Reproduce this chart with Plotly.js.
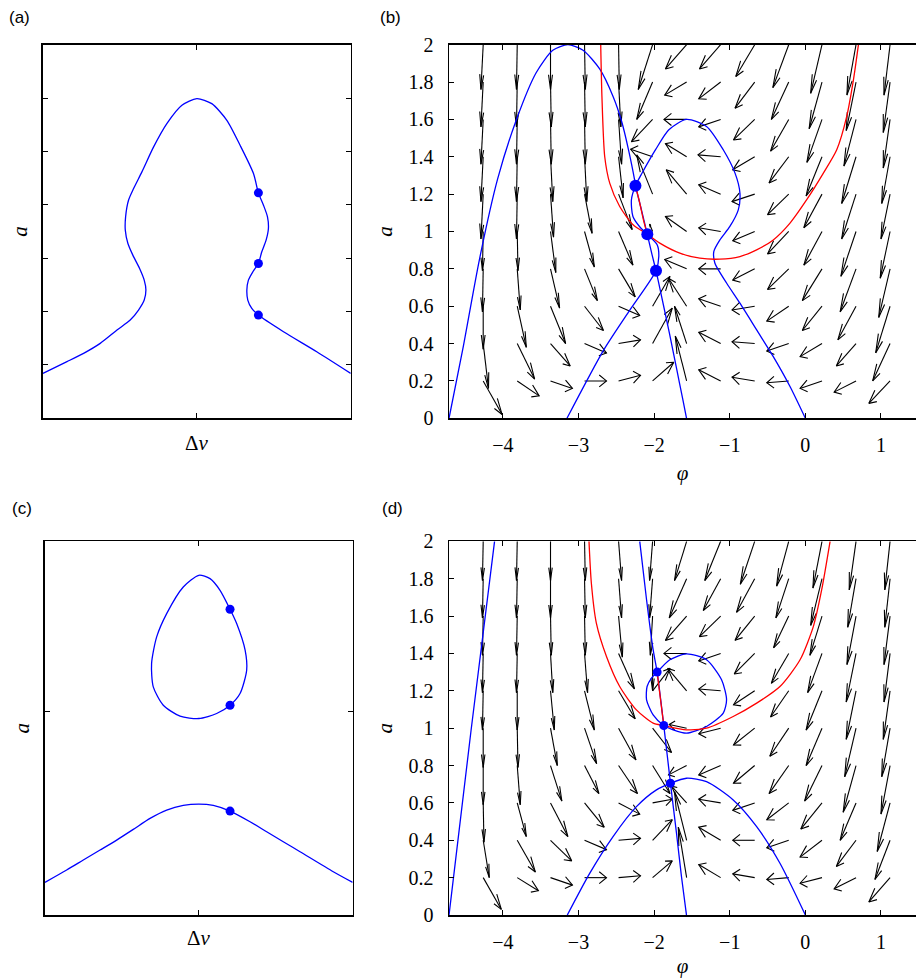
<!DOCTYPE html>
<html><head><meta charset="utf-8">
<script src="https://cdn.plot.ly/plotly-3.0.1.min.js"></script>
<style>html,body{margin:0;padding:0;background:#fff}</style>
</head><body><div id="chart" style="width:916px;height:978px"></div>
<script>
// ---------- panel (a): a vs Δv ----------
const A_dv = [-1,-0.844,-0.736,-0.628,-0.519,-0.433,-0.379,-0.342,-0.331,-0.342,-0.372,-0.416,-0.448,-0.465,-0.463,-0.444,-0.411,-0.357,-0.281,-0.195,-0.097,0,0.097,0.195,0.281,0.368,0.400,0.433,0.459,0.465,0.450,0.422,0.400,0.364,0.335,0.325,0.331,0.357,0.400,0.563,0.779,1];
const A_a  = [0.842,1.061,1.217,1.404,1.653,1.840,2.028,2.215,2.402,2.589,2.807,3.057,3.275,3.525,3.775,4.086,4.305,4.617,5.085,5.521,5.865,5.989,5.896,5.584,5.116,4.586,4.224,3.993,3.775,3.556,3.338,3.119,2.901,2.745,2.589,2.402,2.215,2.059,1.934,1.622,1.248,0.842];
const A_dot_dv = [0.4,0.4,0.4];
const A_dot_a  = [4.224,2.901,1.934];

// ---------- panel (c): a vs Δv ----------
const C_low_dv = [-1,-0.859,-0.751,-0.642,-0.534,-0.426,-0.317,-0.209,-0.101,0.001,0.094,0.203,0.333,0.441,0.549,0.658,0.874,1];
const C_low_a  = [0.961,1.324,1.618,1.912,2.206,2.520,2.843,3.088,3.225,3.265,3.225,3.059,2.745,2.451,2.157,1.863,1.274,0.961];
const C_loop_dv = [0,-0.101,-0.209,-0.274,-0.307,-0.296,-0.231,-0.122,0,0.116,0.203,0.268,0.311,0.301,0.246,0.203,0.138,0.073,0];
const C_loop_a  = [10.0,9.657,8.872,8.186,7.402,6.716,6.176,5.853,5.784,5.931,6.176,6.52,7.206,7.794,8.578,9.0,9.559,9.902,10.0];
const C_dot_dv = [0.203,0.203,0.203];
const C_dot_a  = [9.0,6.176,3.059];

// ---------- panel (b): phase plane ----------
const B_n1_phi = [-4.712,-4.53,-4.31,-4.07,-3.82,-3.56,-3.34,-3.14,-2.94,-2.72,-2.54,-2.43,-2.34,-2.26,-2.247,-2.17,-2.09,-2.03,-1.975,-1.9,-1.80,-1.70,-1.62,-1.571];
const B_n1_a   = [0,0.37,0.85,1.28,1.60,1.85,1.97,2.0,1.97,1.87,1.72,1.59,1.44,1.28,1.245,1.12,0.985,0.88,0.79,0.65,0.46,0.26,0.10,0];
const B_n2_phi = [-3.152,-2.666,-2.335,-1.975,-1.938,-1.96,-2.09,-2.18,-2.28,-2.30,-2.247,-2.159,-1.981,-1.805,-1.571,-1.307,-1.086,-0.93,-0.865,-0.887,-0.998,-1.13,-1.21,-1.196,-1.04,-0.865,-0.644,-0.424,-0.203,0];
const B_n2_a   = [0,0.366,0.571,0.79,0.866,0.929,0.985,1.02,1.08,1.17,1.245,1.313,1.438,1.545,1.60,1.5625,1.4375,1.3125,1.205,1.116,1.027,0.955,0.893,0.83,0.723,0.616,0.473,0.33,0.17,0];
const B_r1_phi = [-2.706,-2.69,-2.653,-2.587,-2.455,-2.278,-2.09,-1.925,-1.66,-1.395,-1.13,-0.865,-0.644,-0.424,-0.203,0.018,0.238,0.415,0.547,0.636,0.702];
const B_r1_a   = [2.0,1.723,1.40,1.259,1.134,1.036,0.985,0.9375,0.884,0.857,0.852,0.866,0.902,0.955,1.045,1.17,1.3125,1.4375,1.616,1.8125,2.0];
const B_r2_phi = [-2.247,-2.2,-2.14,-2.09];
const B_r2_a   = [1.245,1.17,1.06,0.985];
const B_dot_phi = [-2.247,-2.09,-1.975];
const B_dot_a   = [1.245,0.985,0.79];

// ---------- panel (d): phase plane ----------
const D_n1L_phi = [-4.712,-4.42,-4.11];
const D_n1L_a   = [0,0.99,2.0];
const D_n1R_phi = [-2.19,-2.10,-2.013,-1.96,-1.872,-1.784,-1.704,-1.638,-1.572];
const D_n1R_a   = [2.0,1.6875,1.42,1.30,1.014,0.705,0.4375,0.205,0];
const D_n2_phi = [-3.148,-2.852,-2.543,-2.234,-1.969,-1.784,-1.572,-1.307,-0.954,-0.644,-0.336,0];
const D_n2_a   = [0,0.223,0.42,0.58,0.67,0.705,0.732,0.714,0.616,0.473,0.277,0];
const D_loop_phi = [-1.96,-1.792,-1.572,-1.307,-1.108,-1.042,-1.086,-1.307,-1.572,-1.748,-1.872,-2.013,-2.10,-2.093,-2.035,-1.96];
const D_loop_a   = [1.30,1.366,1.398,1.366,1.259,1.152,1.08,1.009,0.973,0.991,1.014,1.071,1.152,1.223,1.268,1.30];
const D_r1_phi = [-2.861,-2.83,-2.764,-2.63,-2.455,-2.234,-2.013,-1.872,-1.572,-1.307,-0.954,-0.644,-0.336,-0.07,0.106,0.216,0.327];
const D_r1_a   = [2.0,1.777,1.5625,1.384,1.223,1.098,1.027,1.014,0.991,1.0,1.0625,1.134,1.223,1.366,1.545,1.741,2.0];
const D_r2_phi = [-1.96,-1.872];
const D_r2_a   = [1.30,1.014];
const D_dot_phi = [-1.96,-1.872,-1.784];
const D_dot_a   = [1.30,1.014,0.705];

// ---------- vector field grid (tails) ----------
const phiGrid = [-4.26,-3.81,-3.37,-2.92,-2.47,-2.02,-1.57,-1.12,-0.67,-0.22,0.22,0.67,1.12];
const aGrid   = [2.0,1.8,1.6,1.4,1.2,1.0,0.8,0.6,0.4,0.2];

// displayed arrow components (phi units, a units), rows follow aGrid
const B_U = [
 [-0.03,-0.01,0,0.01,0.01,-0.19,-0.28,-0.28,-0.25,-0.21,-0.15,-0.12,-0.08],
 [-0.03,-0.01,0.01,0.01,0.03,-0.21,-0.29,-0.29,-0.26,-0.23,-0.17,-0.13,-0.09],
 [-0.03,-0.01,0.01,0.01,0.04,-0.28,-0.30,-0.29,-0.28,-0.24,-0.20,-0.16,-0.09],
 [-0.03,-0.01,0.03,0.03,0.06,-0.29,-0.28,-0.30,-0.29,-0.26,-0.21,-0.19,-0.11],
 [-0.03,-0.01,0.04,0.10,0.18,-0.21,-0.27,-0.29,-0.30,-0.28,-0.24,-0.19,-0.12],
 [-0.01,0.01,0.07,0.13,0.19,-0.04,-0.28,-0.29,-0.29,-0.28,-0.24,-0.20,-0.13],
 [-0.01,0.04,0.12,0.17,0.22,0.03,-0.29,-0.29,-0.29,-0.28,-0.26,-0.21,-0.15],
 [0,0.12,0.20,0.25,0.28,0.23,-0.24,-0.29,-0.30,-0.29,-0.26,-0.24,-0.19],
 [0.07,0.23,0.26,0.29,0.29,0.26,-0.16,-0.29,-0.30,-0.29,-0.29,-0.26,-0.23],
 [0.25,0.29,0.29,0.29,0.29,0.28,-0.15,-0.29,-0.30,-0.29,-0.29,-0.29,-0.28]
];
const B_V = [
 [-0.24,-0.24,-0.24,-0.24,-0.24,-0.24,-0.13,-0.13,-0.17,-0.23,-0.26,-0.27,-0.27],
 [-0.24,-0.24,-0.24,-0.24,-0.24,-0.20,-0.07,-0.09,-0.14,-0.20,-0.25,-0.26,-0.27],
 [-0.24,-0.24,-0.24,-0.24,-0.24,-0.12,0,-0.04,-0.11,-0.17,-0.23,-0.25,-0.26],
 [-0.24,-0.24,-0.24,-0.24,-0.22,0.04,0.07,0.01,-0.07,-0.14,-0.21,-0.25,-0.25],
 [-0.24,-0.24,-0.23,-0.21,-0.19,0.21,0.13,0.05,-0.04,-0.11,-0.18,-0.24,-0.24],
 [-0.21,-0.21,-0.22,-0.19,-0.18,0.04,0.08,0.02,-0.05,-0.12,-0.18,-0.24,-0.25],
 [-0.23,-0.22,-0.21,-0.17,-0.15,0.02,0.05,0,-0.06,-0.11,-0.17,-0.23,-0.26],
 [-0.23,-0.22,-0.20,-0.13,-0.05,0.16,0.15,0.04,-0.02,-0.08,-0.13,-0.18,-0.25],
 [-0.24,-0.19,-0.12,-0.05,0.02,0.19,0.20,0.06,0.01,-0.04,-0.07,-0.12,-0.20],
 [-0.18,-0.08,-0.04,0,0.03,0.10,0.24,0.06,0.02,-0.01,-0.04,-0.06,-0.12]
];
const D_U = [
 [-0.01,-0.01,0,0.01,0.04,-0.04,-0.16,-0.21,-0.19,-0.16,-0.12,-0.09,-0.07],
 [-0.01,-0.01,0,0.01,0.04,-0.04,-0.23,-0.23,-0.24,-0.17,-0.15,-0.11,-0.07],
 [-0.01,-0.01,0.01,0.01,0.05,-0.03,-0.28,-0.28,-0.26,-0.20,-0.16,-0.12,-0.08],
 [-0.01,-0.01,0.03,0.04,0.21,0,-0.30,-0.29,-0.27,-0.23,-0.19,-0.13,-0.08],
 [-0.01,0,0.05,0.13,0.22,0.23,-0.25,-0.29,-0.28,-0.24,-0.21,-0.13,-0.09],
 [0,0.01,0.09,0.16,0.23,0.25,-0.23,-0.29,-0.28,-0.25,-0.21,-0.15,-0.11],
 [0,0.04,0.15,0.19,0.25,0.23,-0.24,-0.29,-0.28,-0.26,-0.23,-0.17,-0.12],
 [0.01,0.12,0.23,0.26,0.28,0.26,-0.20,-0.29,-0.29,-0.29,-0.28,-0.21,-0.17],
 [0.08,0.24,0.28,0.29,0.29,0.26,-0.16,-0.29,-0.29,-0.29,-0.29,-0.26,-0.20],
 [0.24,0.28,0.29,0.29,0.29,0.26,-0.11,-0.29,-0.29,-0.29,-0.29,-0.29,-0.28]
];
const D_V = [
 [-0.21,-0.21,-0.21,-0.21,-0.21,-0.21,-0.21,-0.21,-0.23,-0.24,-0.25,-0.26,-0.26],
 [-0.21,-0.21,-0.21,-0.21,-0.21,-0.21,-0.21,-0.17,-0.18,-0.21,-0.25,-0.26,-0.26],
 [-0.21,-0.21,-0.21,-0.21,-0.22,-0.21,-0.13,-0.11,-0.13,-0.17,-0.21,-0.26,-0.26],
 [-0.21,-0.21,-0.21,-0.21,-0.19,-0.20,0,-0.04,-0.11,-0.16,-0.21,-0.26,-0.26],
 [-0.21,-0.21,-0.21,-0.21,-0.15,0.12,0.12,0.01,-0.075,-0.14,-0.21,-0.26,-0.26],
 [-0.21,-0.21,-0.20,-0.19,-0.17,-0.13,0.02,-0.03,-0.09,-0.15,-0.20,-0.26,-0.26],
 [-0.21,-0.21,-0.19,-0.15,-0.15,-0.15,-0.05,-0.05,-0.095,-0.15,-0.19,-0.25,-0.26],
 [-0.21,-0.18,-0.18,-0.13,-0.06,0.02,0.09,0.02,-0.04,-0.09,-0.14,-0.20,-0.26],
 [-0.20,-0.17,-0.11,-0.05,0.01,0.11,0.26,0.07,0,-0.04,-0.09,-0.14,-0.21],
 [-0.17,-0.07,-0.04,0,0.01,0.09,0.27,0.07,0.02,-0.01,-0.03,-0.06,-0.13]
];

// ---------- helpers ----------
function quiver(U, V, xa, ya) {
  const alpha = 0.33, beta = 0.33; // MATLAB-style arrow head
  const xs = [], ys = [];
  for (let i = 0; i < aGrid.length; i++) {
    for (let j = 0; j < phiGrid.length; j++) {
      const x = phiGrid[j], y = aGrid[i], u = U[i][j], v = V[i][j];
      if (u === 0 && v === 0) continue;
      const tx = x + u, ty = y + v;
      xs.push(x, tx, null); ys.push(y, ty, null);
      xs.push(tx - alpha*(u + beta*v), tx, tx - alpha*(u - beta*v), null);
      ys.push(ty - alpha*(v - beta*u), ty, ty - alpha*(v + beta*u), null);
    }
  }
  return {x: xs, y: ys, xaxis: xa, yaxis: ya, mode: 'lines', type: 'scatter',
          line: {color: '#000', width: 1.1}, hoverinfo: 'skip'};
}
function curve(x, y, color, xa, ya, smooth) {
  return {x: x, y: y, xaxis: xa, yaxis: ya, mode: 'lines', type: 'scatter',
          line: {color: color, width: 1.3, shape: smooth ? 'spline' : 'linear', smoothing: 0.7}};
}
function dots(x, y, size, xa, ya) {
  return {x: x, y: y, xaxis: xa, yaxis: ya, mode: 'markers', type: 'scatter',
          marker: {color: '#0000ff', size: size}};
}

const BLUE = '#0000ff', RED = '#ff0000';
const data = [
  curve(A_dv, A_a, BLUE, 'x', 'y', true),
  dots(A_dot_dv, A_dot_a, 9, 'x', 'y'),

  quiver(B_U, B_V, 'x2', 'y2'),
  curve(B_n1_phi, B_n1_a, BLUE, 'x2', 'y2', true),
  curve(B_n2_phi, B_n2_a, BLUE, 'x2', 'y2', true),
  curve(B_r1_phi, B_r1_a, RED, 'x2', 'y2', true),
  curve(B_r2_phi, B_r2_a, RED, 'x2', 'y2', true),
  dots(B_dot_phi, B_dot_a, 12, 'x2', 'y2'),

  curve(C_low_dv, C_low_a, BLUE, 'x3', 'y3', true),
  curve(C_loop_dv, C_loop_a, BLUE, 'x3', 'y3', true),
  dots(C_dot_dv, C_dot_a, 9, 'x3', 'y3'),

  quiver(D_U, D_V, 'x4', 'y4'),
  curve(D_n1L_phi, D_n1L_a, BLUE, 'x4', 'y4', true),
  curve(D_n1R_phi, D_n1R_a, BLUE, 'x4', 'y4', true),
  curve(D_n2_phi, D_n2_a, BLUE, 'x4', 'y4', true),
  curve(D_loop_phi, D_loop_a, BLUE, 'x4', 'y4', true),
  curve(D_r1_phi, D_r1_a, RED, 'x4', 'y4', true),
  curve(D_r2_phi, D_r2_a, RED, 'x4', 'y4', false),
  dots(D_dot_phi, D_dot_a, 9, 'x4', 'y4')
];

const SERIF = 'Liberation Serif';
const SANS = 'Liberation Sans';
const base = {
  showline: true, linecolor: '#000', linewidth: 1.5, ticks: 'inside', ticklen: 5,
  tickcolor: '#000', tickwidth: 1, zeroline: false, showgrid: false,
  tickfont: {family: SERIF, size: 20, color: '#000'}, fixedrange: true
};
function ax(o) { return Object.assign({}, base, o); }

const phiTicks = [-4,-3,-2,-1,0,1];
const aTicks = [0,0.2,0.4,0.6,0.8,1,1.2,1.4,1.6,1.8,2];
const titleFont = {family: SERIF, size: 21, color: '#000'};
const labFont = {family: SANS, size: 17, color: '#000'};
function note(text, x, y, font) {
  return {text: text, x: x, y: y, xref: 'paper', yref: 'paper', xanchor: 'center', yanchor: 'middle',
          showarrow: false, font: font};
}

const layout = {
  width: 916, height: 978, margin: {l: 0, r: 0, t: 0, b: 0},
  paper_bgcolor: '#fff', plot_bgcolor: '#fff', showlegend: false,
  font: {family: SERIF, color: '#000'},
  xaxis: ax({domain: [0.0469, 0.3829], range: [-1, 1], tickvals: [0], showticklabels: false, mirror: 'ticks', anchor: 'y'}),
  yaxis: ax({domain: [0.5723, 0.9543], range: [0, 7], tickvals: [1,2,3,4,5,6], showticklabels: false, mirror: 'ticks',
             anchor: 'x', title: {text: '<i>a</i>', font: titleFont, standoff: 8}}),
  xaxis2: ax({domain: [0.4902, 1], range: [-4.712, 1.463], tickvals: phiTicks, mirror: 'ticks', anchor: 'y2',
              ticklabelstandoff: 8, title: {text: '<i>φ</i>', font: titleFont, standoff: 10}}),
  yaxis2: ax({domain: [0.5723, 0.9543], range: [0, 2], tickvals: aTicks, mirror: false, anchor: 'x2',
              ticklabelstandoff: 10, title: {text: '<i>a</i>', font: titleFont, standoff: 10}}),
  xaxis3: ax({domain: [0.0491, 0.3850], range: [-1, 1], tickvals: [0], showticklabels: false, mirror: 'ticks', anchor: 'y3'}),
  yaxis3: ax({domain: [0.0644, 0.4465], range: [0, 11], tickvals: [6], showticklabels: false, mirror: 'ticks',
              anchor: 'x3', title: {text: '<i>a</i>', font: titleFont, standoff: 8}}),
  xaxis4: ax({domain: [0.4902, 1], range: [-4.712, 1.463], tickvals: phiTicks, mirror: 'ticks', anchor: 'y4',
              ticklabelstandoff: 8, title: {text: '<i>φ</i>', font: titleFont, standoff: 10}}),
  yaxis4: ax({domain: [0.0644, 0.4465], range: [0, 2], tickvals: aTicks, mirror: false, anchor: 'x4',
              ticklabelstandoff: 10, title: {text: '<i>a</i>', font: titleFont, standoff: 10}}),
  annotations: [
    note('(a)', 0.0218, 0.9826, labFont),
    note('(b)', 0.4258, 0.9826, labFont),
    note('(c)', 0.0240, 0.4796, labFont),
    note('(d)', 0.4280, 0.4796, labFont),
    note('Δ<i>v</i>', 0.2151, 0.547, titleFont),
    note('Δ<i>v</i>', 0.2172, 0.0409, titleFont)
  ]
};

Plotly.newPlot('chart', data, layout, {staticPlot: true, displayModeBar: false});
</script></body></html>
